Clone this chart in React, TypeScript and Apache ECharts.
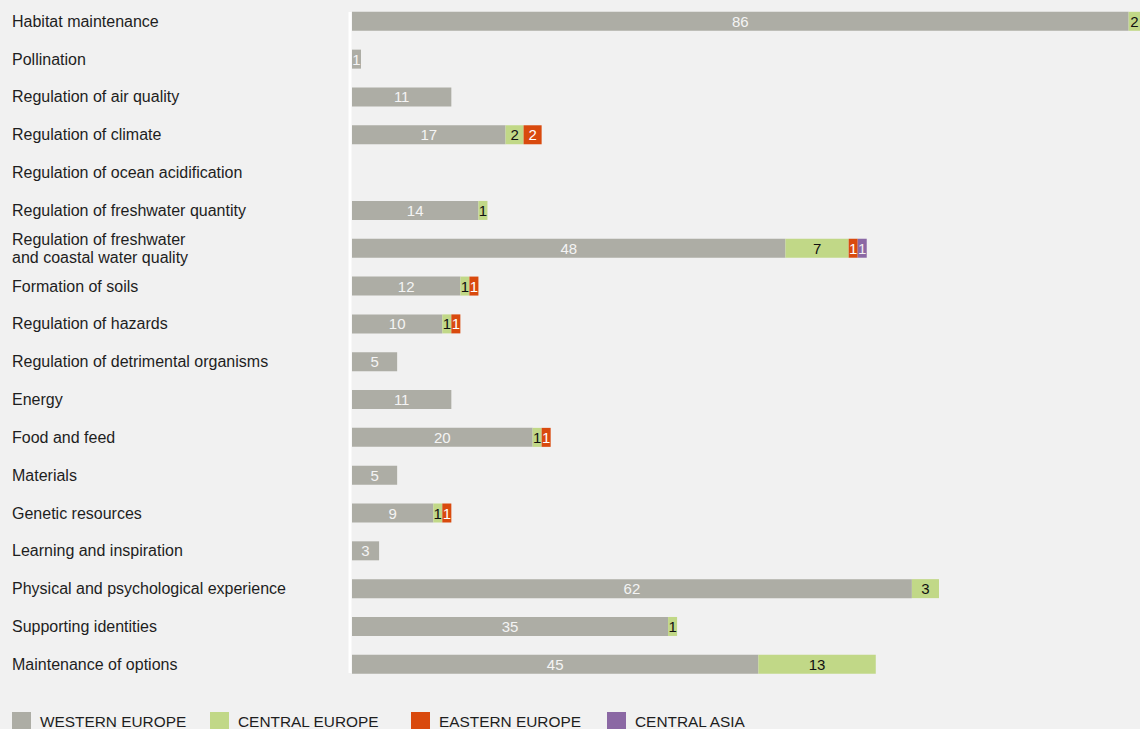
import React, { useEffect, useRef } from "react";
import * as echarts from "echarts";

const categories = [
  "Habitat maintenance",
  "Pollination",
  "Regulation of air quality",
  "Regulation of climate",
  "Regulation of ocean acidification",
  "Regulation of freshwater quantity",
  "Regulation of freshwater\nand coastal water quality",
  "Formation of soils",
  "Regulation of hazards",
  "Regulation of detrimental organisms",
  "Energy",
  "Food and feed",
  "Materials",
  "Genetic resources",
  "Learning and inspiration",
  "Physical and psychological experience",
  "Supporting identities",
  "Maintenance of options",
];

const westernEurope = [86, 1, 11, 17, 0, 14, 48, 12, 10, 5, 11, 20, 5, 9, 3, 62, 35, 45];
const centralEurope = [2, 0, 0, 2, 0, 1, 7, 1, 1, 0, 0, 1, 0, 1, 0, 3, 1, 13];
const easternEurope = [0, 0, 0, 2, 0, 0, 1, 1, 1, 0, 0, 1, 0, 1, 0, 0, 0, 0];
const centralAsia = [0, 0, 0, 0, 0, 0, 1, 0, 0, 0, 0, 0, 0, 0, 0, 0, 0, 0];

const seriesDefs = [
  { name: "WESTERN EUROPE", data: westernEurope, color: "#adada5", labelColor: "#f4f4f4" },
  { name: "CENTRAL EUROPE", data: centralEurope, color: "#c1d887", labelColor: "#111111" },
  { name: "EASTERN EUROPE", data: easternEurope, color: "#d94a0e", labelColor: "#ffffff" },
  { name: "CENTRAL ASIA", data: centralAsia, color: "#8b68a4", labelColor: "#f0f0f0" },
];

const legendLefts = [12, 210, 411, 607];

const FONT = "'Liberation Sans', Arial, Helvetica, sans-serif";

export default function App() {
  const ref = useRef<HTMLDivElement>(null);

  useEffect(() => {
    if (!ref.current) return;
    const chart = echarts.init(ref.current, null, { renderer: "svg" });
    chart.setOption({
      animation: false,
      backgroundColor: "#f1f1f1",
      textStyle: { fontFamily: FONT },
      grid: { left: 352, top: 2.4, right: 0, height: 680.8, containLabel: false },
      xAxis: {
        type: "value",
        min: 0,
        max: 87.26,
        show: false,
      },
      yAxis: {
        type: "category",
        data: categories,
        inverse: true,
        axisLine: { show: false },
        axisTick: { show: false },
        splitLine: { show: false },
        axisLabel: {
          align: "left",
          margin: 340,
          color: "#1e1e1e",
          fontSize: 16,
          lineHeight: 18,
          fontFamily: FONT,
        },
      },
      legend: seriesDefs.map((s, i) => ({
        left: legendLefts[i],
        top: 712,
        padding: 0,
        itemWidth: 19,
        itemHeight: 19,
        icon: "rect",
        selectedMode: false,
        textStyle: {
          fontSize: 15.4,
          color: "#1e1e1e",
          fontFamily: FONT,
          padding: [0, 0, 0, 4],
        },
        data: [s.name],
      })),
      graphic: [
        {
          type: "line",
          shape: { x1: 350, y1: 12, x2: 350, y2: 673 },
          style: { stroke: "#ffffff", lineWidth: 3 },
          silent: true,
        },
      ],
      series: seriesDefs.map((s) => ({
        name: s.name,
        type: "bar",
        stack: "total",
        barWidth: 19,
        data: s.data,
        itemStyle: { color: s.color },
        label: {
          show: true,
          position: "inside",
          color: s.labelColor,
          fontSize: 15,
          fontFamily: FONT,
          formatter: (p: any) => (p.value ? String(p.value) : ""),
        },
      })),
    });
    return () => chart.dispose();
  }, []);

  return (
    <div
      ref={ref}
      style={{ position: "fixed", left: 0, top: 0, width: 1140, height: 729 }}
    />
  );
}
